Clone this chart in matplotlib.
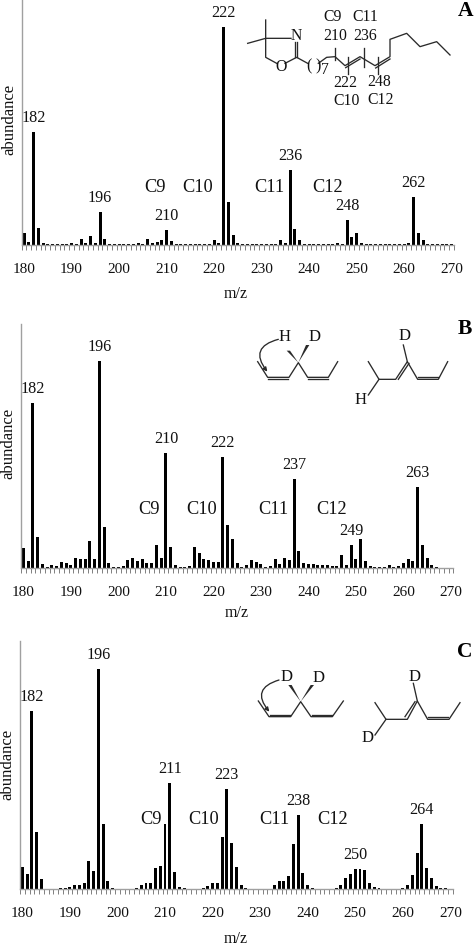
import matplotlib
matplotlib.use("Agg")
import matplotlib.pyplot as plt
from matplotlib.patches import FancyArrowPatch, Polygon

plt.rcParams["font.family"] = ["Liberation Serif", "DejaVu Serif"]

W, H = 475, 948

# ==========================================
# 1. Spectra, m/z 180 to 270 (height)
# ==========================================
mz = list(range(180, 271))

abund_a = [37, 8, 340, 50, 6, 2, 2, 2, 2, 2,
           6, 3, 18, 6, 27, 6, 98, 17, 2, 2,
           2, 2, 2, 2, 5, 3, 19, 5, 9, 14,
           46, 11, 2, 2, 2, 2, 2, 2, 4, 3,
           16, 6, 653, 130, 30, 6, 2, 2, 2, 2,
           2, 2, 4, 2, 15, 5, 225, 48, 15, 3,
           2, 2, 2, 2, 2, 2, 5, 2, 74, 23,
           35, 7, 3, 2, 2, 2, 2, 2, 2, 2,
           4, 6, 145, 37, 15, 4, 3, 2, 2, 2,
           2]
abund_b = [62, 22, 497, 95, 14, 3, 10, 7, 18, 15,
           9, 30, 27, 28, 83, 27, 623, 124, 15, 5,
           3, 6, 26, 30, 23, 29, 15, 15, 70, 30,
           345, 65, 11, 5, 5, 6, 65, 47, 27, 26,
           19, 19, 335, 130, 87, 16, 3, 10, 26, 18,
           14, 5, 6, 27, 13, 31, 26, 268, 52, 16,
           14, 12, 11, 9, 9, 7, 6, 40, 11, 71,
           27, 89, 23, 7, 3, 3, 3, 10, 5, 6,
           17, 28, 22, 243, 69, 32, 9, 4, 2, 2,
           2]
abund_c = [66, 46, 536, 171, 30, 2, 2, 2, 3, 3,
           6, 12, 14, 20, 86, 56, 660, 195, 26, 3,
           2, 2, 2, 2, 3, 13, 20, 18, 64, 69,
           197, 320, 52, 6, 3, 2, 2, 2, 4, 10,
           20, 20, 156, 300, 140, 66, 12, 3, 2, 2,
           2, 2, 2, 12, 25, 25, 40, 137, 222, 50,
           13, 3, 2, 2, 2, 2, 3, 14, 34, 47,
           62, 62, 57, 18, 6, 3, 2, 2, 2, 2,
           4, 14, 42, 108, 196, 64, 34, 11, 4, 3,
           2]

peaks_a = [182, 196, 210, 222, 236, 248, 262]
peaks_b = [182, 196, 210, 222, 237, 249, 263]
peaks_c = [182, 196, 211, 223, 238, 250, 264]

carbon_names = ["C9", "C10", "C11", "C12"]
tick_values = list(range(180, 271, 10))

# Pixel layout of each panel: left, right, top, bottom, then the text spots
panels = [
    dict(box=(21.7, 454.0, 0.0, 245.0), y=abund_a, peaks=peaks_a, letter="A",
         letter_xy=(466, 11), ylab=(9.3, 119), xlab=(236, 294),
         carbon_x=[155, 198, 269, 328], carbon_y=187),
    dict(box=(21.0, 453.3, 324.0, 568.3), y=abund_b, peaks=peaks_b, letter="B",
         letter_xy=(465, 329), ylab=(8.3, 443), xlab=(237, 613),
         carbon_x=[149, 201.7, 273, 332], carbon_y=509),
    dict(box=(20.0, 452.7, 641.0, 889.3), y=abund_c, peaks=peaks_c, letter="C",
         letter_xy=(465, 652), ylab=(7.3, 764), xlab=(236, 939),
         carbon_x=[150.7, 204, 274, 332.7], carbon_y=819),
]

fig = plt.figure(figsize=(W / 100, H / 100), dpi=100, facecolor="white")

# ==========================================
# 2. Bar panels
# ==========================================
for p in panels:
    left, right, top, bottom = p["box"]
    ax = fig.add_axes([left / W, 1 - bottom / H, (right - left) / W, (bottom - top) / H])
    ax.bar(mz, p["y"], width=0.62, color="black", linewidth=0)
    ax.set_xlim(179.5, 270.5)
    ax.set_ylim(0, (bottom - top) * 3)
    ax.patch.set_alpha(0)

    for s in ["top", "right"]:
        ax.spines[s].set_visible(False)
    for s in ["left", "bottom"]:
        ax.spines[s].set_color("#a0a0a0")
        ax.spines[s].set_linewidth(1.0)
    ax.set_yticks([])

    # ticks sit between the bars, labels sit under the bars
    ax.set_xticks([m - 0.5 for m in mz] + [270.5])
    ax.tick_params(axis="x", which="major", length=3.6, width=0.7, color="#808080",
                   labelbottom=False)
    ax.set_xticks(tick_values, minor=True)
    ax.set_xticklabels([str(t) for t in tick_values], minor=True)
    ax.tick_params(axis="x", which="minor", length=0, pad=13, labelsize=11, labelcolor="#111111")

    for m in p["peaks"]:
        ax.annotate(str(m), (m, p["y"][mz.index(m)]), xytext=(0, 10), textcoords="offset points",
                    ha="center", va="center", fontsize=11.6, color="#111111")

# ==========================================
# 3. Overlay in picture pixels: free labels and structures
# ==========================================
ov = fig.add_axes([0, 0, 1, 1])
ov.set_xlim(0, W)
ov.set_ylim(H, 0)
ov.axis("off")
ov.patch.set_alpha(0)

LINE = "#2a2a2a"


def to_px(pt, origin):
    return origin[0] + pt[0] / 3, origin[1] + pt[1] / 3


def chain(points, origin):
    xy = [to_px(q, origin) for q in points]
    ov.plot([q[0] for q in xy], [q[1] for q in xy], color=LINE, lw=0.95, solid_joinstyle="round")


def wedge(a, b, origin, half=5):
    ax_, ay_ = to_px(a, origin)
    bx, by = to_px((b[0] - half, b[1]), origin)
    cx, cy = to_px((b[0] + half, b[1]), origin)
    ov.add_patch(Polygon([(ax_, ay_), (bx, by), (cx, cy)], closed=True, color=LINE, lw=0))


def arrow(a, b, origin, rad):
    ov.add_patch(FancyArrowPatch(to_px(a, origin), to_px(b, origin),
                                 connectionstyle=f"arc3,rad={rad}", arrowstyle="-|>",
                                 mutation_scale=6, lw=0.95, color=LINE, shrinkA=0, shrinkB=0))


def label(text, pt, origin, size=11.3):
    x, y = to_px(pt, origin)
    ov.text(x, y, text, ha="center", va="center", fontsize=size, color="#111111")


for p in panels:
    for name, x in zip(carbon_names, p["carbon_x"]):
        ov.text(x, p["carbon_y"], name, ha="center", va="center", fontsize=13.2, color="#111111")
    ov.text(*p["letter_xy"], p["letter"], ha="center", va="center", fontsize=15.5, fontweight="bold")
    ov.text(*p["ylab"], "abundance", rotation=90, ha="center", va="center", fontsize=12, color="#111111")
    ov.text(*p["xlab"], "m/z", ha="center", va="center", fontsize=11.5, color="#111111")

# panel A: oxazoline with the fatty chain
org = (235, 0)
chain([(38, 130), (92, 115), (168, 115)], org)
chain([(92, 60), (92, 172), (125, 190)], org)
chain([(150, 190), (185, 172), (218, 190)], org)
chain([(180, 125), (180, 172)], org)
chain([(186, 125), (186, 172)], org)
chain([(250, 190), (275, 172), (300, 170), (330, 197), (375, 170), (420, 197), (465, 170),
       (465, 118), (515, 100), (555, 140), (605, 125), (645, 165)], org)
chain([(332, 203), (375, 177)], org)
chain([(422, 204), (465, 177)], org)
for x0, y0, y1 in [(300, 145, 180), (338, 170, 222), (386, 145, 200), (430, 170, 222)]:
    chain([(x0, y0), (x0, y1)], org)
for txt, pt in [("N", (183, 108)), ("O", (138, 200)), ("(", (222, 198)), (")", (248, 198)),
                ("7", (270, 210)), ("C9", (292, 52)), ("C11", (392, 52)), ("210", (300, 108)),
                ("236", (390, 108)), ("222", (330, 250)), ("248", (433, 245)),
                ("C10", (335, 303)), ("C12", (437, 300))]:
    label(txt, pt, org)

# panel B: H shift sketch
org = (235, 320)
chain([(68, 125), (98, 172), (162, 172), (190, 128), (218, 172), (280, 172), (308, 125)], org)
chain([(100, 178), (160, 178)], org)
chain([(220, 178), (278, 178)], org)
wedge((190, 128), (160, 92), org)
wedge((190, 128), (218, 75), org)
arrow((130, 58), (97, 155), org, 0.75)
chain([(400, 125), (432, 178), (482, 178), (517, 125), (548, 178), (610, 178), (638, 125)], org)
chain([(490, 178), (522, 130)], org)
chain([(550, 172), (608, 172)], org)
chain([(517, 125), (505, 75)], org)
chain([(432, 178), (400, 225)], org)
for txt, pt in [("H", (150, 50)), ("D", (238, 52)), ("D", (510, 47)), ("H", (378, 240))]:
    label(txt, pt, org, 12)

# panel C: D shift sketch
org = (235, 635)
chain([(70, 198), (102, 245), (167, 245), (197, 200), (228, 245), (292, 245), (325, 198)], org)
chain([(104, 239), (165, 239)], org)
chain([(230, 239), (290, 239)], org)
wedge((197, 200), (165, 150), org)
wedge((197, 200), (232, 150), org)
arrow((132, 135), (103, 230), org, 0.75)
chain([(420, 203), (453, 253), (517, 253), (547, 198), (578, 253), (642, 253), (675, 203)], org)
chain([(510, 245), (540, 200)], org)
chain([(580, 246), (640, 246)], org)
chain([(547, 198), (535, 145)], org)
chain([(453, 253), (420, 300)], org)
for txt, pt in [("D", (155, 127)), ("D", (252, 130)), ("D", (540, 125)), ("D", (397, 310))]:
    label(txt, pt, org, 12)

fig.savefig("out.png", dpi=100, facecolor="white")
